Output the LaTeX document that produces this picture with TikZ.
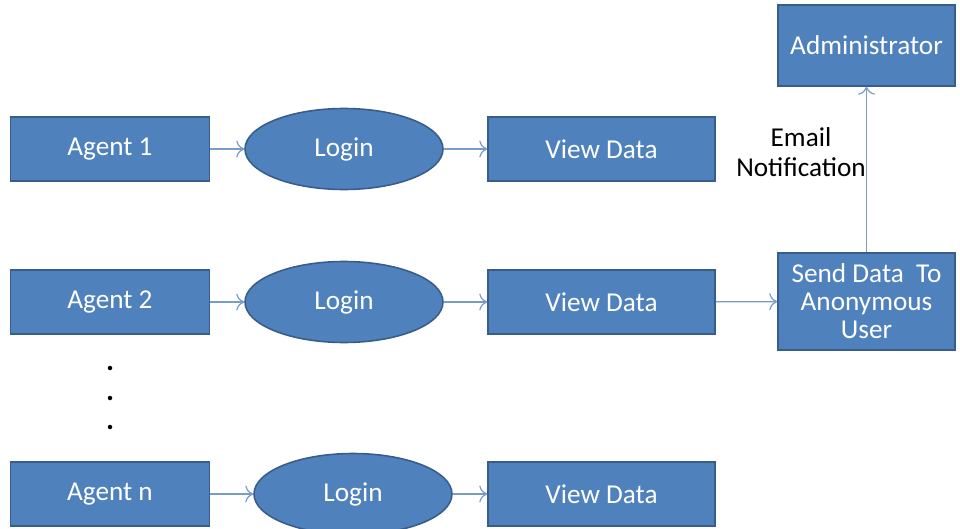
\documentclass[tikz,border=0pt]{standalone}
\usepackage{fontspec}
\setmainfont{Carlito}
\usepackage{xcolor}
\usepackage{tikz}
\usetikzlibrary{shapes,arrows,arrows.meta,positioning,calc}

\definecolor{boxblue}{HTML}{4F81BD}
\definecolor{edgeblue}{HTML}{385D8A}
\definecolor{linkblue}{HTML}{7A9CC8}

\tikzset{
	agentbox/.style={rectangle,draw=edgeblue,fill=boxblue,line width=0.9pt,text=white,
		minimum width=3.98cm,minimum height=1.28cm,font=\fontsize{15.5}{16}\selectfont},
	loginoval/.style={ellipse,draw=edgeblue,fill=boxblue,line width=0.9pt,text=white,
		minimum width=3.96cm,minimum height=1.62cm,inner sep=0pt,font=\fontsize{15.5}{16}\selectfont},
	link/.style={-{To[length=1.6mm,width=3.4mm]},linkblue,line width=0.7pt}
}

\begin{document}
\begin{tikzpicture}
		\useasboundingbox (0,0) rectangle (19.2,10.56);
		\begin{scope}
		\clip (0,0) rectangle (19.2,10.56);
		% first row
		\node[agentbox] (agent1) at (2.2,7.58) {Agent 1};
		\node[loginoval] (login1) at (6.88,7.58) {Login};
		\node[agentbox,minimum width=4.54cm] (view1) at (12.03,7.58) {View Data};
		% second row
		\node[agentbox] (agent2) at (2.2,4.52) {Agent 2};
		\node[loginoval] (login2) at (6.88,4.52) {Login};
		\node[agentbox,minimum width=4.54cm] (view2) at (12.03,4.52) {View Data};
		% last row
		\node[agentbox] (agentn) at (2.2,0.68) {Agent n};
		\node[loginoval] (loginn) at (7.06,0.68) {Login};
		\node[agentbox,minimum width=4.54cm] (viewn) at (12.03,0.68) {View Data};
		% right column
		\node[agentbox,minimum width=3.54cm,minimum height=1.94cm,align=center] (send) at (17.33,4.53) {Send Data\ \ To\\Anonymous\\User};
		\node[agentbox,minimum width=3.54cm,minimum height=1.62cm] (admin) at (17.33,9.65) {Administrator};
		\node[align=center,font=\fontsize{15.5}{17}\selectfont] (email) at (16.02,7.52) {Email\\Notification};
		% dots
		\fill[black] (2.2,3.2) circle (0.45mm);
		\fill[black] (2.2,2.6) circle (0.45mm);
		\fill[black] (2.2,2.02) circle (0.45mm);
		% arrows
		\draw[link] (agent1) -- (login1);
		\draw[link] (login1) -- (view1);
		\draw[link] (agent2) -- (login2);
		\draw[link] (login2) -- (view2);
		\draw[link] (agentn) -- (loginn);
		\draw[link] (loginn) -- (viewn);
		\draw[link] (view2) -- (send);
		\draw[link] (send) -- (admin);
		\end{scope}
	\end{tikzpicture}
\end{document}
